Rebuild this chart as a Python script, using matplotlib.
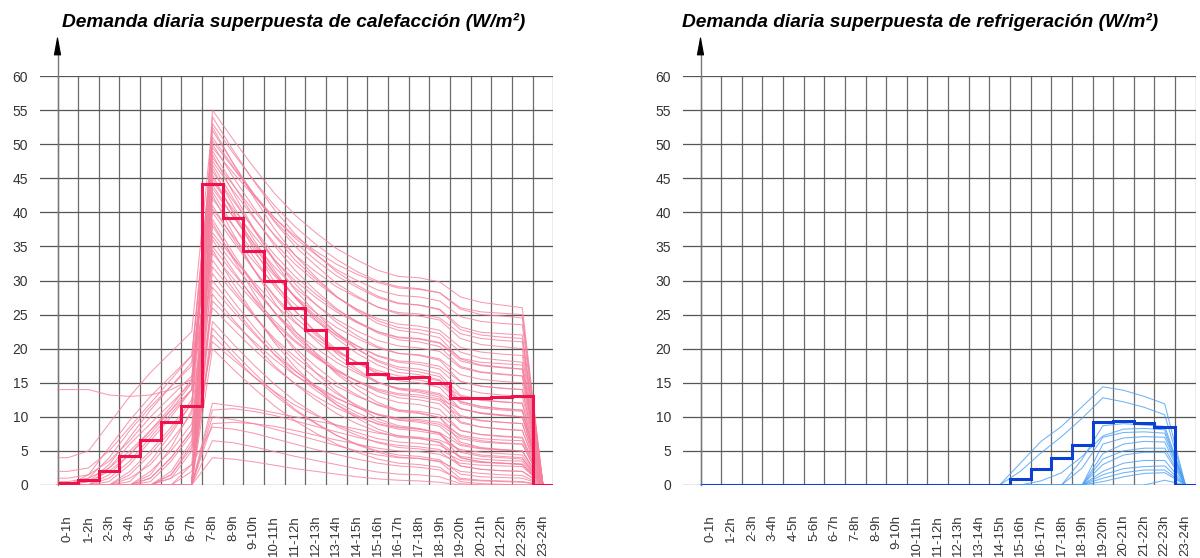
import numpy as np
import matplotlib
matplotlib.use("Agg")
import matplotlib.pyplot as plt

plt.rcParams['font.family'] = ['Liberation Sans', 'DejaVu Sans']

# hour intervals (tick labels)
horas = ["%d-%dh" % (h, h + 1) for h in range(24)]
y_ticks = list(range(0, 65, 5))

# mean hourly demand (thick step line), W/m2
calef_media = [0.3, 0.7, 2.0, 4.2, 6.6, 9.3, 11.6, 44.1, 39.2, 34.4, 29.9, 26.0,
               22.7, 20.1, 17.9, 16.3, 15.7, 15.9, 15.0, 12.8, 12.8, 12.9, 13.0, 0.0]
refrig_media = [0, 0, 0, 0, 0, 0, 0, 0, 0, 0, 0, 0, 0, 0, 0,
                0.83, 2.4, 4.0, 5.85, 9.2, 9.4, 9.1, 8.45, 0.0]

# superposed daily curves, values at hour centres (0.5h ... 23.5h)
calef_dias = [
    [0, 0, 0, 0, 0, 0, 0, 55, 50.7, 46.6, 42.8, 39.6, 37.0, 34.7, 33.0, 31.5, 30.6, 30.4, 29.8, 27.6, 26.8, 26.4, 26.0, 0],
    [4, 5, 9, 13, 16.5, 19.5, 22.5, 53, 48.7, 44.7, 41.0, 37.9, 35.3, 33.1, 31.3, 29.9, 29.1, 28.8, 28.2, 25.8, 25.0, 24.8, 24.5, 0],
    [0.5, 1, 2.5, 5, 8, 11, 14, 52, 47.2, 42.7, 38.6, 35.0, 32.2, 29.6, 27.7, 26.1, 25.1, 24.8, 24.2, 21.5, 20.6, 20.3, 20.0, 0],
    [0, 0, 0, 0, 1.5, 5.5, 11, 51, 46.7, 42.6, 38.8, 35.6, 33.0, 30.7, 29.0, 27.5, 26.6, 26.4, 25.8, 23.2, 22.4, 22.2, 22.0, 0],
    [2, 2.5, 5, 8.5, 12, 15.5, 19, 50, 45.2, 40.7, 36.6, 33.0, 30.2, 27.6, 25.7, 24.1, 23.1, 22.8, 22.2, 19.5, 18.6, 18.3, 18.0, 0],
    [0, 0, 0, 0, 0, 0, 0, 49, 44.1, 39.4, 35.1, 31.5, 28.5, 25.9, 23.9, 22.3, 21.3, 21.0, 20.3, 17.4, 16.6, 16.3, 16.0, 0],
    [0, 1.5, 5.5, 9.5, 13, 16, 19, 48, 44.0, 40.2, 36.7, 33.7, 31.3, 29.1, 27.5, 26.1, 25.3, 25.1, 24.5, 22.2, 21.5, 21.2, 21.0, 0],
    [0, 0, 0, 0, 0, 2, 6.5, 47, 42.1, 37.4, 33.1, 29.5, 26.5, 23.9, 21.9, 20.3, 19.3, 19.0, 18.3, 15.2, 14.5, 14.2, 14.0, 0],
    [1, 1.5, 3.5, 6.5, 10, 13, 16, 46, 41.7, 37.6, 33.8, 30.6, 28.0, 25.7, 24.0, 22.5, 21.6, 21.4, 20.8, 18.2, 17.5, 17.2, 17.0, 0],
    [0, 0, 0, 0, 0, 0, 0, 45, 40.1, 35.4, 31.1, 27.5, 24.5, 21.9, 19.9, 18.3, 17.3, 17.0, 16.3, 13.2, 12.5, 12.2, 12.0, 0],
    [0, 0, 0.5, 3, 6.5, 10, 14, 44, 39.4, 35.0, 31.0, 27.6, 24.8, 22.3, 20.4, 18.9, 18.0, 17.7, 17.0, 14.2, 13.5, 13.2, 13.0, 0],
    [0, 0, 0, 0, 0, 0, 3, 43, 38.1, 33.4, 29.1, 25.5, 22.5, 19.9, 17.9, 16.3, 15.3, 15.0, 14.3, 11.2, 10.5, 10.2, 10.0, 0],
    [0, 1, 4, 8, 11.5, 14.5, 17.5, 42, 38.0, 34.2, 30.7, 27.7, 25.3, 23.1, 21.5, 20.1, 19.3, 19.1, 18.5, 16.2, 15.5, 15.2, 15.0, 0],
    [0, 0, 0, 0, 0, 0, 0, 41, 36.2, 31.7, 27.6, 24.0, 21.2, 18.6, 16.7, 15.1, 14.1, 13.8, 13.2, 10.2, 9.5, 9.2, 9.0, 0],
    [0, 0, 0, 1.5, 4.5, 8, 12, 40, 35.7, 31.6, 27.8, 24.6, 22.0, 19.7, 18.0, 16.5, 15.6, 15.4, 14.8, 12.2, 11.5, 11.2, 11.0, 0],
    [0, 0, 0, 0, 0, 1, 5, 38, 33.5, 29.3, 25.4, 22.1, 19.4, 17.0, 15.2, 13.7, 12.8, 12.5, 11.9, 9.1, 8.5, 8.2, 8.0, 0],
    [0, 0, 2.5, 6, 9, 12, 15, 37, 33.3, 29.8, 26.5, 23.8, 21.5, 19.5, 18.0, 16.8, 16.0, 15.8, 15.3, 13.0, 12.4, 12.2, 12.0, 0],
    [0, 0, 0, 0, 0, 0, 0, 36, 31.5, 27.3, 23.4, 20.1, 17.4, 15.0, 13.2, 11.7, 10.8, 10.5, 9.9, 7.1, 6.5, 6.2, 6.0, 0],
    [0, 0, 0, 1, 3, 6.5, 10.5, 35, 31.1, 27.5, 24.1, 21.2, 18.9, 16.8, 15.2, 13.9, 13.2, 12.9, 12.4, 10.0, 9.4, 9.2, 9.0, 0],
    [0, 0, 0, 0, 2, 5, 9, 33, 28.8, 24.9, 21.2, 18.2, 15.6, 13.4, 11.7, 10.3, 9.5, 9.2, 8.6, 6.0, 5.4, 5.2, 5.0, 0],
    [0, 0, 0, 0, 0, 0, 0, 32, 28.3, 24.8, 21.5, 18.8, 16.5, 14.5, 13.0, 11.8, 11.0, 10.8, 10.3, 8.0, 7.4, 7.2, 7.0, 0],
    [0, 0, 0, 0, 0.5, 3.5, 7.5, 30, 26.1, 22.5, 19.1, 16.2, 13.9, 11.8, 10.2, 8.9, 8.2, 7.9, 7.4, 5.0, 4.4, 4.2, 4.0, 0],
    [0, 0, 0, 0, 0, 0, 0, 28, 24.3, 20.8, 17.5, 14.8, 12.5, 10.5, 9.0, 7.8, 7.0, 6.8, 6.3, 4.0, 3.4, 3.2, 3.0, 0],
    [0, 0, 0, 0, 1, 4, 8, 26, 22.9, 19.9, 17.2, 14.9, 13.0, 11.3, 10.0, 9.0, 8.4, 8.2, 7.7, 5.8, 5.3, 5.1, 5.0, 0],
    [0, 0, 0, 0, 0, 0, 0, 24, 20.7, 17.6, 14.8, 12.3, 10.4, 8.6, 7.3, 6.2, 5.5, 5.3, 4.9, 2.8, 2.3, 2.1, 2.0, 0],
    [0, 0, 0, 0, 0, 0, 2, 22, 18.9, 15.9, 13.2, 10.9, 9.0, 7.3, 6.0, 5.0, 4.4, 4.2, 3.7, 1.6, 1.2, 1.1, 1.0, 0],
    [0, 0, 0, 0, 0, 0, 0, 20, 17.0, 14.2, 11.6, 9.4, 7.6, 6.0, 4.8, 3.8, 3.2, 3.0, 2.6, 0.5, 0.2, 0.1, 0.0, 0],
    [14, 14, 13.2, 13, 13.2, 14, 15.5, 34, 30.3, 26.9, 23.7, 21.0, 18.7, 16.7, 15.3, 14.1, 13.4, 13.2, 12.6, 11.2, 10.6, 10.3, 10.0, 0],
    [0, 0, 0, 0, 0, 0, 0, 12, 11.6, 11.2, 10.6, 10.0, 9.4, 8.8, 8.2, 7.6, 7.2, 7.0, 6.6, 5.2, 4.8, 4.6, 4.4, 0],
    [0, 0, 0, 0, 0, 0, 0, 11, 11.2, 10.8, 10.2, 9.4, 8.6, 7.8, 7.0, 6.3, 5.8, 5.6, 5.2, 3.6, 3.3, 3.2, 3.1, 0],
    [0, 0, 0, 0, 0, 0, 0, 10, 9.6, 9.0, 8.2, 7.4, 6.6, 5.8, 5.0, 4.4, 4.0, 3.9, 3.5, 2.0, 1.7, 1.5, 1.4, 0],
    [0, 0, 0, 0, 0, 1, 3, 8.5, 8.2, 7.6, 6.8, 6.0, 5.2, 4.5, 3.8, 3.2, 2.8, 2.6, 2.2, 0.8, 0.6, 0.5, 0.4, 0],
    [0, 0, 0, 0, 0, 0, 0, 6.5, 6.2, 5.6, 4.9, 4.2, 3.6, 3.0, 2.4, 1.9, 1.6, 1.5, 1.2, 0.2, 0, 0, 0, 0],
    [0, 0, 0, 0, 0, 0, 0, 4, 3.8, 3.4, 2.9, 2.4, 2.0, 1.6, 1.2, 0.9, 0.7, 0.6, 0.4, 0, 0, 0, 0, 0],
    [0, 0, 0, 0, 0, 0, 0, 54, 49.1, 44.6, 40.4, 36.8, 33.9, 31.3, 29.3, 27.7, 26.7, 26.4, 25.7, 22.8, 22.0, 21.7, 21.5, 0],
    [0, 0, 1, 3.5, 7, 10.5, 14, 46.5, 41.0, 36.0, 31.5, 27.5, 24.2, 21.5, 19.3, 17.6, 16.5, 16.2, 15.4, 12.0, 11.3, 11.0, 10.8, 0],
    [0, 0, 0, 0, 0, 0, 0, 39, 34.0, 29.5, 25.3, 21.8, 19.0, 16.5, 14.6, 13.0, 12.1, 11.8, 11.1, 8.0, 7.4, 7.1, 6.9, 0],
    [0, 0, 0, 0, 0, 0, 0, 29, 25.5, 22.2, 19.2, 16.7, 14.6, 12.8, 11.4, 10.3, 9.6, 9.4, 8.9, 6.8, 6.3, 6.1, 6.0, 0],
    [0, 0, 0, 0, 0, 0, 0, 44.5, 40.5, 36.6, 33.0, 30.0, 27.5, 25.4, 23.8, 22.5, 21.7, 21.5, 20.9, 18.6, 18.0, 17.8, 17.6, 0],
    [0, 0, 0, 2, 5, 8.5, 12.5, 31, 27.0, 23.2, 19.7, 16.8, 14.3, 12.2, 10.6, 9.3, 8.5, 8.2, 7.6, 4.8, 4.2, 4.0, 3.8, 0],
    [0, 0, 0, 0, 0, 0, 0, 52.5, 47.2, 42.2, 37.6, 33.7, 30.5, 27.7, 25.5, 23.7, 22.7, 22.3, 21.6, 18.5, 17.6, 17.3, 17.0, 0],
    [0, 0.5, 3, 7, 11, 14.5, 18, 50.5, 46.5, 42.7, 39.2, 36.2, 33.8, 31.6, 30.0, 28.6, 27.8, 27.6, 27.0, 24.7, 24.0, 23.7, 23.5, 0],
    [0, 0, 0, 0, 0, 0, 0, 48.5, 42.9, 37.6, 32.8, 28.6, 25.3, 22.3, 20.0, 18.1, 17.0, 16.6, 15.9, 12.3, 11.5, 11.2, 11.0, 0],
    [0, 0, 0, 0.5, 3.5, 7.5, 12, 47.5, 43.2, 39.2, 35.5, 32.4, 29.8, 27.6, 25.8, 24.4, 23.6, 23.3, 22.7, 20.2, 19.5, 19.2, 19.0, 0],
    [0, 0, 0, 0, 0, 0, 0, 45.5, 39.9, 34.6, 29.8, 25.6, 22.3, 19.3, 17.0, 15.1, 14.0, 13.6, 12.9, 9.3, 8.5, 8.2, 8.0, 0],
    [0, 0, 1.5, 4.5, 8, 11.5, 15.5, 43.5, 39.4, 35.5, 32.0, 28.9, 26.5, 24.3, 22.6, 21.2, 20.4, 20.1, 19.6, 17.2, 16.5, 16.2, 16.0, 0],
    [0, 0, 0, 0, 0, 0, 0, 42.5, 36.9, 31.6, 26.8, 22.6, 19.3, 16.3, 14.0, 12.1, 11.0, 10.6, 9.9, 6.3, 5.5, 5.2, 5.0, 0],
    [0, 0, 0, 0, 0, 1.5, 6, 40.5, 36.5, 32.8, 29.4, 26.5, 24.1, 22.0, 20.4, 19.0, 18.2, 18.0, 17.4, 15.2, 14.5, 14.2, 14.0, 0],
    [0, 0, 0, 0, 0, 0, 0, 38.5, 33.2, 28.2, 23.6, 19.7, 16.5, 13.7, 11.5, 9.7, 8.7, 8.3, 7.6, 4.0, 3.4, 3.2, 3.0, 0],
    [0, 0, 0, 0, 1, 4, 8, 36.5, 32.5, 28.8, 25.4, 22.5, 20.1, 18.0, 16.4, 15.0, 14.2, 14.0, 13.4, 11.2, 10.5, 10.2, 10.0, 0],
    [0, 0, 0, 0, 0, 0, 0, 34.5, 29.6, 25.1, 20.9, 17.3, 14.4, 11.8, 9.8, 8.2, 7.2, 6.9, 6.2, 2.8, 2.3, 2.1, 2.0, 0],
    [0, 0, 0, 0, 0, 0, 0, 27, 23.9, 21.1, 18.4, 16.1, 14.3, 12.7, 11.4, 10.4, 9.8, 9.6, 9.2, 7.3, 6.8, 6.6, 6.5, 0],
    [0, 0, 0, 0, 0, 0, 0, 23, 19.6, 16.5, 13.6, 11.1, 9.1, 7.3, 5.9, 4.8, 4.1, 3.9, 3.4, 1.0, 0.7, 0.6, 0.5, 0],
    [0, 0, 0, 0, 0, 1.5, 5.5, 21, 18.4, 15.9, 13.7, 11.7, 10.2, 8.8, 7.7, 6.8, 6.3, 6.1, 5.8, 4.2, 3.8, 3.6, 3.5, 0],
    [0, 0, 0, 0, 0, 0, 0, 9, 9.2, 9.0, 8.6, 8.0, 7.3, 6.6, 6.0, 5.4, 5.0, 4.9, 4.5, 3.2, 2.9, 2.8, 2.7, 0],
    [0, 0.5, 2, 4.5, 7.5, 11, 15, 49.5, 45.8, 42.4, 39.2, 36.5, 34.3, 32.4, 30.9, 29.7, 28.9, 28.7, 28.2, 26.0, 25.4, 25.2, 25.0, 0],
]

refrig_dias = [
    [0, 0, 0, 0, 0, 0, 0, 0, 0, 0, 0, 0, 0, 0, 0, 3.2, 6.4, 8.6, 11.5, 14.4, 13.9, 13.0, 11.9, 0],
    [0, 0, 0, 0, 0, 0, 0, 0, 0, 0, 0, 0, 0, 0, 0, 2.0, 4.7, 7.1, 9.8, 12.8, 12.2, 11.4, 10.3, 0],
    [0, 0, 0, 0, 0, 0, 0, 0, 0, 0, 0, 0, 0, 0, 0, 0, 0, 0, 3.8, 8.7, 9.0, 8.8, 8.6, 0],
    [0, 0, 0, 0, 0, 0, 0, 0, 0, 0, 0, 0, 0, 0, 0, 0, 0.6, 1.8, 4.2, 7.2, 8.2, 8.3, 8.1, 0],
    [0, 0, 0, 0, 0, 0, 0, 0, 0, 0, 0, 0, 0, 0, 0, 0, 0, 0, 2.5, 7.0, 7.7, 7.8, 7.6, 0],
    [0, 0, 0, 0, 0, 0, 0, 0, 0, 0, 0, 0, 0, 0, 0, 0, 0, 0, 0, 6.0, 6.9, 7.1, 7.0, 0],
    [0, 0, 0, 0, 0, 0, 0, 0, 0, 0, 0, 0, 0, 0, 0, 0, 0, 0, 0, 4.6, 6.0, 6.4, 6.3, 0],
    [0, 0, 0, 0, 0, 0, 0, 0, 0, 0, 0, 0, 0, 0, 0, 0, 0, 0, 0, 3.8, 5.0, 5.4, 5.4, 0],
    [0, 0, 0, 0, 0, 0, 0, 0, 0, 0, 0, 0, 0, 0, 0, 0, 0, 0, 0, 3.0, 4.4, 4.8, 4.8, 0],
    [0, 0, 0, 0, 0, 0, 0, 0, 0, 0, 0, 0, 0, 0, 0, 0, 0, 0, 0, 2.0, 3.2, 3.6, 3.6, 0],
    [0, 0, 0, 0, 0, 0, 0, 0, 0, 0, 0, 0, 0, 0, 0, 0, 0, 0, 0, 1.5, 2.4, 2.7, 2.8, 0],
    [0, 0, 0, 0, 0, 0, 0, 0, 0, 0, 0, 0, 0, 0, 0, 0, 0, 0, 0, 1.0, 1.8, 2.2, 2.2, 0],
    [0, 0, 0, 0, 0, 0, 0, 0, 0, 0, 0, 0, 0, 0, 0, 0, 0, 0, 0, 0.5, 1.2, 1.7, 1.8, 0],
    [0, 0, 0, 0, 0, 0, 0, 0, 0, 0, 0, 0, 0, 0, 0, 0, 0, 0, 0, 0, 0, 0, 0.7, 0],
]

titulos = ["Demanda diaria superpuesta de calefacción (W/m²)",
           "Demanda diaria superpuesta de refrigeración (W/m²)"]

W, H = 1200, 558
fig = plt.figure(figsize=(12, 5.58), dpi=100)


def panel(left_px, right_px, titulo_x, media, dias, c_fino, c_grueso, titulo):
    ax = fig.add_axes([left_px / W, (H - 485) / H, (right_px - left_px) / W, (485 - 76) / H])
    x0 = -17.5 / ((right_px - left_px - 17.5) / 24.0)
    ax.set_xlim(x0, 24)
    ax.set_ylim(0, 60)
    for s in ax.spines.values():
        s.set_visible(False)

    # grid: vertical lines at hour boundaries, horizontal every 5
    ax.set_xticks(np.arange(0, 25), minor=True)
    ax.set_xticks(np.arange(24) + 0.5)
    ax.set_xticklabels(horas, rotation=90, va='top', ha='center', fontsize=9.5, color='#333333')
    ax.set_yticks(y_ticks)
    ax.set_yticklabels([str(v) for v in y_ticks], fontsize=10, color='#333333')
    ax.tick_params(which='both', length=0)
    ax.tick_params(axis='y', pad=8.5)
    ax.tick_params(axis='x', pad=21.5)
    ax.grid(True, which='minor', axis='x', color='#6a6a6a', lw=0.9)
    ax.grid(True, which='major', axis='y', color='#555555', lw=0.9)
    ax.set_axisbelow(True)

    # y axis with arrow
    ax.plot([0, 0], [0, 64], color='#777777', lw=1, clip_on=False, zorder=1)
    ax.annotate('', xy=(0, 66), xytext=(0, 63.2),
                arrowprops=dict(arrowstyle='-|>,head_length=1.2,head_width=0.22',
                                color='black', lw=0.8, shrinkA=0, shrinkB=0),
                annotation_clip=False)

    xc = np.concatenate([[0], np.arange(24) + 0.5])
    for d in dias:
        ax.plot(xc, [d[0]] + list(d), color=c_fino, lw=0.75, alpha=0.8, zorder=2)
    ax.stairs(media, np.arange(25), baseline=None, color=c_grueso, lw=2.2, zorder=3)

    fig.text(titulo_x / W, 1 - 22 / H, titulo, fontsize=13.8, fontweight='bold',
             fontstyle='italic', va='center', ha='left', color='black')
    return ax


panel(40, 553.3, 62, calef_media, calef_dias, '#f5809e', '#f0124c', titulos[0])
panel(683, 1195.7, 682, refrig_media, refrig_dias, '#4aa0f5', '#0c3fd4', titulos[1])

fig.savefig('out.png', dpi=100)
